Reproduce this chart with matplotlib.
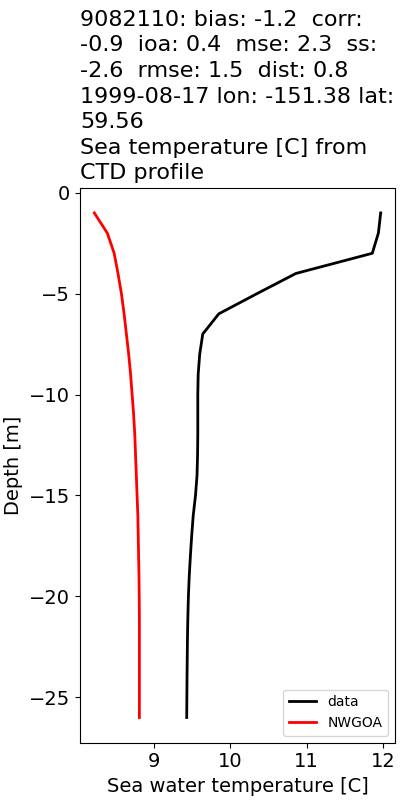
import matplotlib
matplotlib.use("Agg")
from matplotlib import pyplot as plt

# depth levels [m]
depth = [-1, -2, -3, -4, -5, -6, -7, -8, -9, -10, -11, -12, -13,
         -14, -15, -16, -17, -18, -19, -20, -21, -22, -23, -24, -25, -26]

# observed CTD profile
temp_data = [11.97, 11.94, 11.86, 10.86, 10.35, 9.85, 9.64, 9.60, 9.58, 9.575,
             9.575, 9.575, 9.572, 9.565, 9.545, 9.515, 9.495, 9.478, 9.463, 9.452,
             9.445, 9.44, 9.437, 9.434, 9.432, 9.43]

# model profile
temp_model = [8.22, 8.39, 8.48, 8.53, 8.575, 8.61, 8.64, 8.67, 8.695, 8.715,
              8.735, 8.75, 8.76, 8.77, 8.78, 8.79, 8.795, 8.80, 8.805, 8.808,
              8.81, 8.81, 8.81, 8.81, 8.81, 8.81]

title = ("9082110: bias: -1.2  corr:\n"
         "-0.9  ioa: 0.4  mse: 2.3  ss:\n"
         "-2.6  rmse: 1.5  dist: 0.8\n"
         "1999-08-17 lon: -151.38 lat:\n"
         "59.56\n"
         "Sea temperature [C] from\n"
         "CTD profile")

fig = plt.figure(figsize=(4, 8), dpi=100)
ax = fig.add_axes([0.2, 0.0716, 0.7875, 0.6938])

ax.plot(temp_data, depth, color='k', linewidth=2, label='data')
ax.plot(temp_model, depth, color='r', linewidth=2, label='NWGOA')

ax.set_xlabel('Sea water temperature [C]', fontsize=14)
ax.set_ylabel('Depth [m]', fontsize=14)
ax.tick_params(labelsize=14)
ax.set_title(title, loc='left', fontsize=16, linespacing=1.35)
ax.legend(loc='lower right', fontsize=10)

plt.savefig('out.png', dpi=100)
